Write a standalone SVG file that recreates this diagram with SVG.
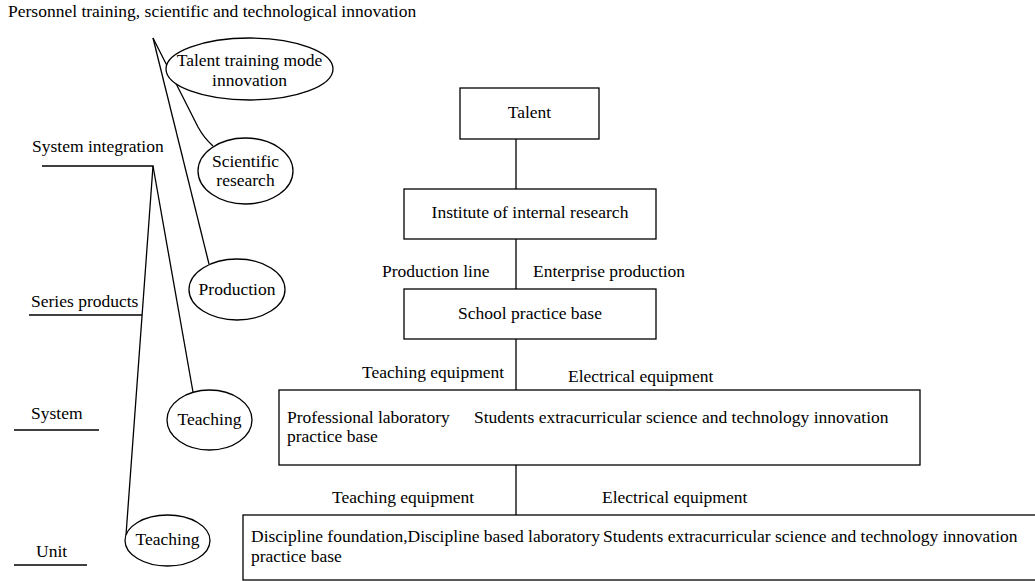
<svg xmlns="http://www.w3.org/2000/svg" width="1035" height="581" viewBox="0 0 1035 581">
<style>
text{font-family:"Liberation Serif","Times New Roman",serif;font-size:17.5px;fill:#000}
.m{text-anchor:middle}
.s{fill:#fff;stroke:#000;stroke-width:1.3}
.c{fill:none;stroke:#000;stroke-width:1.3}
</style>
<rect width="1035" height="581" fill="#fff"/>
<g id="labels">
<text x="8" y="17">Personnel training, scientific and technological innovation</text>
<text x="32" y="152">System integration</text>
<text x="31" y="307">Series products</text>
<text x="31" y="419">System</text>
<text x="36" y="557">Unit</text>
<text x="382" y="277">Production line</text>
<text x="533" y="277">Enterprise production</text>
<text x="362" y="378">Teaching equipment</text>
<text x="568" y="382">Electrical equipment</text>
<text x="332" y="503">Teaching equipment</text>
<text x="602" y="503">Electrical equipment</text>
</g>
<g id="connectors">
<path class="c" d="M153,38 L198,127 Q204,138 213,146"/>
<path class="c" d="M153,38 L209,264"/>
<path class="c" d="M42,166 H153 L126,535"/>
<path class="c" d="M153,166 L193,392"/>
<path class="c" d="M29,315 H142"/>
<path class="c" d="M14,430 H99"/>
<path class="c" d="M14,565 H87"/>
<path class="c" d="M516,139 V189 M516,239 V289 M516,339 V390 M516,465 V515"/>
</g>
<g id="n-talent-mode"><ellipse class="s" cx="249.5" cy="69" rx="83.5" ry="31"/><text class="m" x="249.5" y="66">Talent training mode</text><text class="m" x="249.5" y="86">innovation</text></g>
<g id="n-scientific"><ellipse class="s" cx="245.5" cy="171" rx="47.5" ry="33"/><text class="m" x="245.5" y="167">Scientific</text><text class="m" x="245.5" y="186">research</text></g>
<g id="n-production"><ellipse class="s" cx="237" cy="289.5" rx="48" ry="30.5"/><text class="m" x="237" y="295">Production</text></g>
<g id="n-teaching-system"><ellipse class="s" cx="209.5" cy="420" rx="42.5" ry="30"/><text class="m" x="209.5" y="425">Teaching</text></g>
<g id="n-teaching-unit"><ellipse class="s" cx="167.5" cy="540.5" rx="42.5" ry="25.5"/><text class="m" x="167.5" y="545">Teaching</text></g>
<g id="n-talent"><rect class="s" x="460" y="88" width="139" height="51"/><text class="m" x="529.5" y="118">Talent</text></g>
<g id="n-institute"><rect class="s" x="404" y="189" width="252" height="50"/><text class="m" x="530" y="218">Institute of internal research</text></g>
<g id="n-school"><rect class="s" x="404" y="289" width="252" height="50"/><text class="m" x="530" y="319">School practice base</text></g>
<g id="n-professional"><rect class="s" x="279" y="390" width="641" height="75"/><text x="287" y="423">Professional laboratory</text><text x="474" y="423">Students extracurricular science and technology innovation</text><text x="287" y="442">practice base</text></g>
<g id="n-discipline"><rect class="s" x="243" y="515" width="800" height="65"/><text x="251" y="542">Discipline foundation,Discipline based laboratory</text><text x="603" y="542">Students extracurricular science and technology innovation</text><text x="251" y="562">practice base</text></g>
</svg>
